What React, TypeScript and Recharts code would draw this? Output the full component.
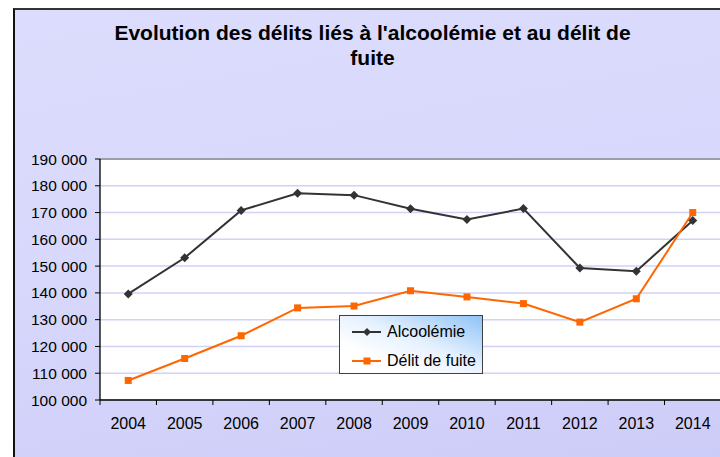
import React from 'react';
import { LineChart, Line, XAxis, YAxis, CartesianGrid, Legend, ReferenceLine } from 'recharts';

const years = ['2004', '2005', '2006', '2007', '2008', '2009', '2010', '2011', '2012', '2013', '2014'];
const alcoolemie = [139600, 153100, 170800, 177200, 176500, 171400, 167400, 171500, 149300, 148100, 167000];
const delitFuite = [107300, 115500, 124000, 134400, 135100, 140800, 138500, 136000, 129100, 137800, 170000];
const yTicks = [100000, 110000, 120000, 130000, 140000, 150000, 160000, 170000, 180000, 190000];
const seriesNames = ['Alcoolémie', 'Délit de fuite'];
const seriesColors = ['#333333', '#ff6600'];
const titleLines = ["Evolution des délits liés à l'alcoolémie et au délit de", 'fuite'];

const data = years.map((y, i) => ({ year: y, alc: alcoolemie[i], fuite: delitFuite[i] }));

const FONT = "'Liberation Sans', Arial, sans-serif";

const fmt = (v: number) => `${Math.floor(v / 1000)} ${String(v % 1000).padStart(3, '0')}`;

const Diamond = (props: any) => {
  const { cx, cy } = props;
  if (cx == null || cy == null) return null;
  const r = 4.5;
  return <path d={`M${cx},${cy - r}L${cx + r},${cy}L${cx},${cy + r}L${cx - r},${cy}Z`} fill="#333333" />;
};

const Square = (props: any) => {
  const { cx, cy } = props;
  if (cx == null || cy == null) return null;
  const r = 3.5;
  return <rect x={cx - r} y={cy - r} width={2 * r} height={2 * r} fill="#ff6600" />;
};

const XTick = (props: any) => {
  const { x, y, payload, index, visibleTicksCount, width } = props;
  const half = payload && payload.offset ? payload.offset : width / visibleTicksCount / 2;
  const top = y - 18;
  return (
    <g>
      <line x1={x - half} x2={x - half} y1={top} y2={top + 5} stroke="#000" />
      {index === visibleTicksCount - 1 && (
        <line x1={x + half} x2={x + half} y1={top} y2={top + 5} stroke="#000" />
      )}
      <text x={x} y={y} dy="0.71em" textAnchor="middle" fill="#000" fontSize={16} fontFamily={FONT}>
        {payload.value}
      </text>
    </g>
  );
};

const LegendBox = () => (
  <div
    style={{
      position: 'relative',
      width: 144,
      height: 59,
      boxSizing: 'border-box',
      border: '1px solid #404040',
      background: 'linear-gradient(to bottom left, #8fc3f8 0%, #e6f1fe 45%, #ffffff 75%)',
      fontFamily: FONT,
      fontSize: 16,
      color: '#000',
    }}
  >
    {seriesNames.map((name, i) => (
      <div key={name} style={{ position: 'absolute', left: 12, top: 5 + i * 29, height: 22, display: 'flex', alignItems: 'center' }}>
        <svg width={30} height={12} style={{ display: 'block' }}>
          <line x1={0} x2={29} y1={6} y2={6} stroke={seriesColors[i]} strokeWidth={2} />
          {i === 0 ? (
            <path d="M15,2L19,6L15,10L11,6Z" fill={seriesColors[i]} />
          ) : (
            <rect x={11.5} y={2.5} width={7} height={7} fill={seriesColors[i]} />
          )}
        </svg>
        <span style={{ marginLeft: 5, whiteSpace: 'nowrap' }}>{name}</span>
      </div>
    ))}
  </div>
);

export default function App() {
  return (
    <div
      style={{
        position: 'fixed',
        left: 0,
        top: 0,
        width: 720,
        height: 457,
        overflow: 'hidden',
        background: '#ffffff',
      }}
    >
      <div
        style={{
          position: 'absolute',
          left: 13,
          top: 8,
          width: 760,
          height: 470,
          borderTop: '2px solid #333',
          borderLeft: '2px solid #111',
          background: 'linear-gradient(170deg, #dcdcfd 0%, #d8d8fc 45%, #cbcbf8 100%)',
        }}
      >
        <LineChart
          width={760}
          height={460}
          data={data}
          margin={{ top: 149, right: 54, bottom: 40, left: 0 }}
        >
          <CartesianGrid vertical={false} stroke="#d2d2f6" strokeWidth={1.5} fill="#ffffff" />
          <ReferenceLine y={yTicks[yTicks.length - 1]} stroke="#9c9caa" strokeWidth={2} />
          <XAxis
            dataKey="year"
            scale="band"
            height={30}
            axisLine={{ stroke: '#000', strokeWidth: 1.3 }}
            tickLine={false}
            tickSize={5}
            tickMargin={13}
            interval={0}
            tick={<XTick />}
          />
          <YAxis
            width={85}
            domain={[yTicks[0], yTicks[yTicks.length - 1]]}
            ticks={yTicks}
            tickFormatter={fmt}
            axisLine={{ stroke: '#000', strokeWidth: 1.3 }}
            tickLine={{ stroke: '#000' }}
            tickSize={5}
            tickMargin={8}
            tick={{ fill: '#000', fontSize: 15.5, fontFamily: FONT }}
            interval={0}
          />
          <Line
            dataKey="alc"
            name={seriesNames[0]}
            stroke={seriesColors[0]}
            strokeWidth={2}
            dot={<Diamond />}
            activeDot={false}
            isAnimationActive={false}
          />
          <Line
            dataKey="fuite"
            name={seriesNames[1]}
            stroke={seriesColors[1]}
            strokeWidth={2}
            dot={<Square />}
            activeDot={false}
            isAnimationActive={false}
          />
          <Legend
            layout="vertical"
            align="center"
            verticalAlign="middle"
            content={<LegendBox />}
            wrapperStyle={{ position: 'absolute', left: 324, top: 305, width: 144, height: 59 }}
          />
        </LineChart>
      </div>
      <svg
        width={720}
        height={80}
        style={{ position: 'absolute', left: 0, top: 0, pointerEvents: 'none' }}
      >
        <text x={372.5} y={40} textAnchor="middle" fontFamily={FONT} fontWeight="bold" fontSize={21} fill="#000">
          {titleLines[0]}
        </text>
        <text x={372.5} y={65} textAnchor="middle" fontFamily={FONT} fontWeight="bold" fontSize={21} fill="#000">
          {titleLines[1]}
        </text>
      </svg>
    </div>
  );
}
